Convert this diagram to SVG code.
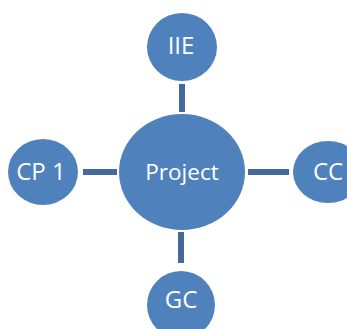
<svg xmlns="http://www.w3.org/2000/svg" width="347" height="329" viewBox="0 0 347 329">
<style>
.n{fill:#4F81BD;}
.t{fill:#FFFFFF;font-family:"Open Sans","Liberation Sans",sans-serif;text-anchor:middle;}
.c{stroke:#44699A;stroke-width:6;fill:none;}
</style>
<rect width="347" height="329" fill="#FFFFFF"/>
<g id="connectors">
<line class="c" x1="182" y1="84" x2="182" y2="112"/>
<line class="c" x1="83" y1="172" x2="117" y2="172"/>
<line class="c" x1="248" y1="172" x2="289" y2="172"/>
<line class="c" x1="181" y1="232" x2="181" y2="263"/>
</g>
<g id="project">
<ellipse class="n" cx="182" cy="172" rx="63" ry="58"/>
<text class="t" x="182" y="180" font-size="22.5">Project</text>
</g>
<g id="iie">
<ellipse class="n" cx="182" cy="47" rx="35" ry="34"/>
<text class="t" x="181" y="54" font-size="24">IIE</text>
</g>
<g id="cp1">
<ellipse class="n" cx="43" cy="172" rx="35" ry="33"/>
<text class="t" x="41" y="180" font-size="24">CP 1</text>
</g>
<g id="cc">
<ellipse class="n" cx="328" cy="172" rx="35" ry="31"/>
<text class="t" x="328" y="180" font-size="24">CC</text>
</g>
<g id="gc">
<ellipse class="n" cx="181" cy="305" rx="34" ry="34"/>
<text class="t" x="181" y="308" font-size="24">GC</text>
</g>
</svg>
